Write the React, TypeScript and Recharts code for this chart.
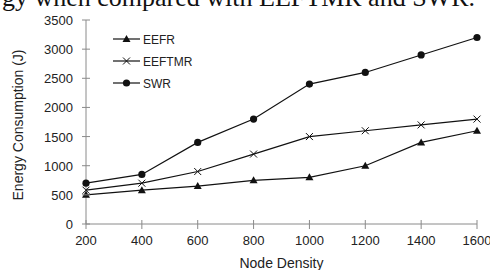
import { LineChart, Line, XAxis, YAxis } from "recharts";

/* values */
const nodeDensity = [200, 400, 600, 800, 1000, 1200, 1400, 1600];
const eefr = [500, 580, 650, 750, 800, 1000, 1400, 1600];
const eeftmr = [580, 700, 900, 1200, 1500, 1600, 1700, 1800];
const swr = [700, 850, 1400, 1800, 2400, 2600, 2900, 3200];
const yTicks = [0, 500, 1000, 1500, 2000, 2500, 3000, 3500];
const seriesNames = ["EEFR", "EEFTMR", "SWR"];

const data = nodeDensity.map((n, i) => ({
  n,
  EEFR: eefr[i],
  EEFTMR: eeftmr[i],
  SWR: swr[i],
}));

const INK = "#111";
const AXIS = "#8a8a8a";
const TEXT = "#222";
const SANS = "'Liberation Sans', Arial, sans-serif";

/* marker shapes, shared by the dots and the legend */
function Marker({ kind, cx, cy }: { kind: string; cx: number; cy: number }) {
  if (kind === "EEFR") {
    return <polygon points={`${cx},${cy - 4} ${cx - 4},${cy + 3} ${cx + 4},${cy + 3}`} fill={INK} />;
  }
  if (kind === "EEFTMR") {
    return (
      <path
        d={`M${cx - 3.5},${cy - 3.5}L${cx + 3.5},${cy + 3.5}M${cx - 3.5},${cy + 3.5}L${cx + 3.5},${cy - 3.5}`}
        stroke={INK}
        strokeWidth={1}
        fill="none"
      />
    );
  }
  return <circle cx={cx} cy={cy} r={3.6} fill={INK} />;
}

const dotFor = (kind: string) => (p: any) =>
  <Marker key={`${kind}-${p.index}`} kind={kind} cx={p.cx} cy={p.cy} />;

/* ticks that cross the axis line, as in the original */
function XTick(p: any) {
  return (
    <g>
      <line x1={p.x} x2={p.x} y1={p.y - 4} y2={p.y + 5} stroke={AXIS} />
      <text x={p.x} y={p.y + 21} textAnchor="middle" fontSize={13} fill={TEXT} fontFamily={SANS}>
        {p.payload.value}
      </text>
    </g>
  );
}

function YTick(p: any) {
  return (
    <g>
      <line x1={p.x - 4} x2={p.x + 4} y1={p.y} y2={p.y} stroke={AXIS} />
      <text x={p.x - 13} y={p.y + 5} textAnchor="end" fontSize={13} fill={TEXT} fontFamily={SANS}>
        {p.payload.value}
      </text>
    </g>
  );
}

/* legend drawn on top of the plot, so it does not take space from the chart */
function LegendBox() {
  return (
    <svg width={90} height={66} style={{ position: "absolute", left: 113, top: 30 }}>
      {seriesNames.map((name, i) => {
        const y = 9 + i * 22;
        return (
          <g key={name}>
            <line x1={0} x2={27} y1={y} y2={y} stroke={INK} strokeWidth={1.2} />
            <Marker kind={name} cx={13.5} cy={y} />
            <text x={30} y={y + 4.5} fontSize={12} fill={TEXT} fontFamily={SANS}>
              {name}
            </text>
          </g>
        );
      })}
    </svg>
  );
}

export default function App() {
  return (
    <div style={{ position: "absolute", left: 0, top: 0, width: 490, height: 270, background: "#fff" }}>
      {/* the line of body text that sits cut off above the figure */}
      <svg width={490} height={20} style={{ position: "absolute", left: 0, top: 0 }}>
        <text x={2} y={6} fontSize={26} fontFamily="'Liberation Serif', 'Times New Roman', serif" fill="#111">
          gy when compared with EEFTMR and SWR.
        </text>
      </svg>

      <LineChart width={490} height={270} data={data} margin={{ top: 20, right: 13, bottom: 0, left: 0 }}>
        <XAxis
          dataKey="n"
          type="number"
          domain={[200, 1600]}
          ticks={nodeDensity}
          interval={0}
          stroke={AXIS}
          tickLine={false}
          tickSize={0}
          tickMargin={0}
          height={46}
          tick={<XTick />}
          label={{
            value: "Node Density",
            position: "insideBottom",
            offset: 2,
            fontSize: 14,
            fill: TEXT,
            fontFamily: SANS,
          }}
        />
        <YAxis
          type="number"
          domain={[0, 3500]}
          ticks={yTicks}
          interval={0}
          stroke={AXIS}
          tickLine={false}
          tickSize={0}
          tickMargin={0}
          width={86}
          tick={<YTick />}
          label={{
            content: (props: any) => {
              const vb = props.viewBox;
              const cx = vb.x + 18;
              const cy = vb.y + vb.height / 2 + 3;
              return (
                <text
                  x={cx}
                  y={cy}
                  transform={`rotate(-90 ${cx} ${cy})`}
                  textAnchor="middle"
                  dominantBaseline="central"
                  fontSize={14}
                  fill={TEXT}
                  fontFamily={SANS}
                >
                  Energy Consumption (J)
                </text>
              );
            },
          }}
        />
        <Line dataKey="EEFR" stroke={INK} strokeWidth={1.2} dot={dotFor("EEFR")} isAnimationActive={false} />
        <Line dataKey="EEFTMR" stroke={INK} strokeWidth={1.2} dot={dotFor("EEFTMR")} isAnimationActive={false} />
        <Line dataKey="SWR" stroke={INK} strokeWidth={1.2} dot={dotFor("SWR")} isAnimationActive={false} />
      </LineChart>
      <LegendBox />
    </div>
  );
}
